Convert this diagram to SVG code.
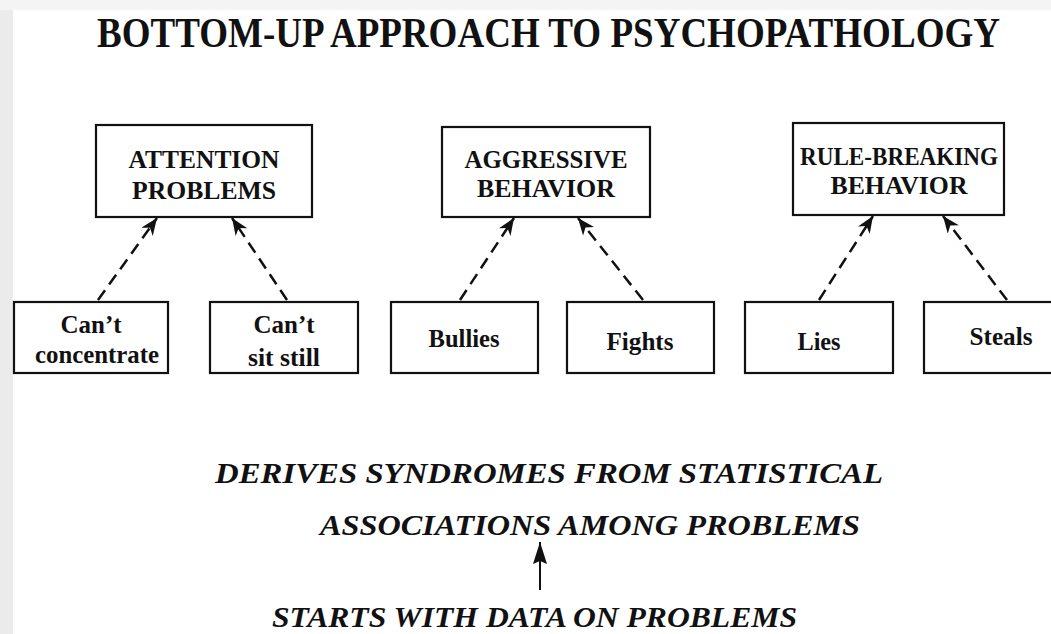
<svg xmlns="http://www.w3.org/2000/svg" width="1051" height="634" viewBox="0 0 1051 634">
<style>
.box{fill:#fff;stroke:#111;stroke-width:2.2}
.lbl{font-family:"Liberation Serif","Times New Roman",serif;font-weight:bold;font-size:25px;fill:#111;text-anchor:middle}
.title{font-family:"Liberation Serif","Times New Roman",serif;font-weight:bold;font-size:36.5px;fill:#111}
.it{font-family:"Liberation Serif","Times New Roman",serif;font-weight:bold;font-style:italic;font-size:30px;fill:#111}
.dash{stroke:#111;stroke-width:2.5;stroke-dasharray:12 7;fill:none;marker-end:url(#barb)}
</style>
<defs>
<marker id="barb" markerUnits="userSpaceOnUse" markerWidth="20" markerHeight="16" refX="17" refY="7" orient="auto">
<path d="M0,0 L17,7 L0,14 L5,7 z" fill="#111"/>
</marker>
<marker id="tri" markerUnits="userSpaceOnUse" markerWidth="24" markerHeight="16" refX="22" refY="7" orient="auto">
<path d="M0,0 L22,7 L0,14 L3,7 z" fill="#111"/>
</marker>
</defs>
<rect x="0" y="0" width="1051" height="634" fill="#f4f4f4"/>
<rect x="0" y="10" width="13" height="624" fill="#ebebeb"/>
<rect x="13" y="10" width="1038" height="624" fill="#fff"/>

<text class="title" transform="translate(97,47) scale(1,1.15)" x="0" y="0" textLength="903" lengthAdjust="spacingAndGlyphs">BOTTOM-UP APPROACH TO PSYCHOPATHOLOGY</text>

<g id="connectors">
<line class="dash" x1="98" y1="300" x2="157" y2="218"/>
<line class="dash" x1="287" y1="300" x2="232" y2="218"/>
<line class="dash" x1="460" y1="300" x2="514" y2="218"/>
<line class="dash" x1="643" y1="300" x2="578" y2="218"/>
<line class="dash" x1="819" y1="300" x2="873" y2="216"/>
<line class="dash" x1="1007" y1="300" x2="943" y2="216"/>
<line x1="540" y1="590" x2="540" y2="542" stroke="#111" stroke-width="2" marker-end="url(#tri)"/>
</g>

<g id="attention">
<rect class="box" x="96" y="125" width="216" height="92"/>
<text class="lbl" x="204" y="168" textLength="151" lengthAdjust="spacingAndGlyphs">ATTENTION</text>
<text class="lbl" x="204" y="199" textLength="144" lengthAdjust="spacingAndGlyphs">PROBLEMS</text>
</g>
<g id="aggressive">
<rect class="box" x="442" y="127" width="208" height="90"/>
<text class="lbl" x="546" y="168" textLength="163" lengthAdjust="spacingAndGlyphs">AGGRESSIVE</text>
<text class="lbl" x="546" y="197" textLength="138" lengthAdjust="spacingAndGlyphs">BEHAVIOR</text>
</g>
<g id="rulebreaking">
<rect class="box" x="793" y="123" width="211" height="92"/>
<text class="lbl" x="899" y="165" textLength="198" lengthAdjust="spacingAndGlyphs">RULE-BREAKING</text>
<text class="lbl" x="899" y="194" textLength="137" lengthAdjust="spacingAndGlyphs">BEHAVIOR</text>
</g>
<g id="cant-concentrate">
<rect class="box" x="14" y="302" width="154" height="71"/>
<text class="lbl" x="91" y="333">Can’t</text>
<text class="lbl" x="97" y="363" textLength="124" lengthAdjust="spacingAndGlyphs">concentrate</text>
</g>
<g id="cant-sit-still">
<rect class="box" x="210" y="302" width="148" height="71"/>
<text class="lbl" x="284" y="333">Can’t</text>
<text class="lbl" x="284" y="366" textLength="72" lengthAdjust="spacingAndGlyphs">sit still</text>
</g>
<g id="bullies">
<rect class="box" x="391" y="302" width="147" height="71"/>
<text class="lbl" x="464" y="347" textLength="71" lengthAdjust="spacingAndGlyphs">Bullies</text>
</g>
<g id="fights">
<rect class="box" x="567" y="302" width="147" height="71"/>
<text class="lbl" x="640" y="350" textLength="67" lengthAdjust="spacingAndGlyphs">Fights</text>
</g>
<g id="lies">
<rect class="box" x="745" y="302" width="148" height="71"/>
<text class="lbl" x="819" y="350" textLength="43" lengthAdjust="spacingAndGlyphs">Lies</text>
</g>
<g id="steals">
<rect class="box" x="924" y="302" width="140" height="71"/>
<text class="lbl" x="1001" y="345" textLength="63" lengthAdjust="spacingAndGlyphs">Steals</text>
</g>

<g id="bottom-text">
<text class="it" x="215" y="483" textLength="668" lengthAdjust="spacingAndGlyphs">DERIVES SYNDROMES FROM STATISTICAL</text>
<text class="it" x="320" y="535" textLength="540" lengthAdjust="spacingAndGlyphs">ASSOCIATIONS AMONG PROBLEMS</text>
<text class="it" x="272" y="627" font-size="29" textLength="525" lengthAdjust="spacingAndGlyphs">STARTS WITH DATA ON PROBLEMS</text>
</g>
</svg>
